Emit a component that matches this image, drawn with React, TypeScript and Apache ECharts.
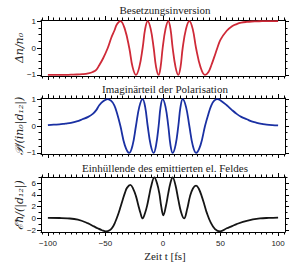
import React, { useEffect, useRef } from 'react';
import * as echarts from 'echarts';

// time samples (fs) for population inversion and polarization
const T = [-100, -95, -90, -85, -80, -75, -70, -65, -61, -58, -55.4, -52, -48, -45, -42.3, -40, -37, -33.2, -29.3, -26.4, -23.5, -20.6, -17.7, -15.5, -13.3, -10.7, -8.1, -6, -3.8, -2.1, -0.3, 2.2, 4.6, 6.5, 8.4, 10.9, 13.3, 15.2, 17.1, 20, 22.9, 25.8, 28.7, 32.6, 36.5, 39.5, 42, 44.5, 47.2, 50, 55.4, 60, 64, 68, 72.8, 77, 81.5, 86, 90, 95, 100];
const DN = [-1, -1, -1, -1, -0.99, -0.985, -0.97, -0.94, -0.89, -0.81, -0.64, -0.38, 0, 0.37, 0.64, 0.88, 1, 0.71, 0, -0.71, -1, -0.71, 0, 0.71, 1, 0.71, 0, -0.71, -1, -0.71, 0, 0.71, 1, 0.71, 0, -0.71, -1, -0.71, 0, 0.71, 1, 0.71, 0, -0.71, -1, -0.89, -0.64, -0.34, 0, 0.31, 0.64, 0.81, 0.89, 0.94, 0.97, 0.985, 0.99, 0.997, 1, 1, 1];
const POL = [0.03, 0.05, 0.06, 0.09, 0.12, 0.17, 0.25, 0.34, 0.45, 0.59, 0.77, 0.92, 1, 0.93, 0.77, 0.48, 0, -0.71, -1, -0.71, 0, 0.71, 1, 0.71, 0, -0.71, -1, -0.71, 0, 0.71, 1, 0.71, 0, -0.71, -1, -0.71, 0, 0.71, 1, 0.71, 0, -0.71, -1, -0.71, 0, 0.45, 0.77, 0.94, 1, 0.95, 0.77, 0.59, 0.45, 0.34, 0.25, 0.17, 0.12, 0.08, 0.05, 0.03, 0.02];

// time samples (fs) and emitted field envelope
const TE = [-100, -90, -83, -74, -65.5, -60, -56.8, -53, -49.6, -46, -43.8, -41.5, -39.4, -37, -35, -33, -31.3, -28.4, -25.8, -23.5, -21.5, -19.7, -17.7, -15.8, -13.9, -12, -10.4, -7.5, -5.2, -3.2, -1.5, 0.3, 2.4, 4.6, 6.4, 8.4, 10.9, 13.3, 15.8, 18.3, 21, 23.5, 26, 28.7, 31, 33.6, 36, 38, 41.4, 45.2, 49.6, 55.4, 60, 64, 72.8, 84.3, 92, 100];
const EF = [0.1, 0.08, 0.03, -0.2, -0.8, -1.35, -1.67, -2.0, -2.2, -1.95, -1.5, -0.6, 0.45, 1.9, 3.2, 4.4, 5.2, 5.7, 5.0, 3.8, 2.3, 1.0, 0.0, 0.8, 2.1, 3.9, 5.4, 7.0, 6.0, 4.3, 2.0, 0.55, 2.0, 4.3, 6.0, 7.0, 5.6, 3.2, 1.0, 0.0, 1.6, 3.8, 5.1, 5.6, 5.1, 3.8, 2.3, 1.0, -0.67, -1.8, -2.2, -1.67, -1.3, -0.95, -0.4, 0.0, 0.1, 0.15];

const X_MAJOR = [-100, -50, 0, 50, 100];
const Y1_MAJOR = [-1, 0, 1];
const Y3_MAJOR = [-2, 0, 2, 4, 6];

const TITLES = ['Besetzungsinversion', 'Imaginärteil der Polarisation', 'Einhüllende des emittierten el. Feldes'];
const YNAMES = ['Δn/n₀', '𝒫/(in₀|d₁₂|)', 'ℰħ/(|d₁₂|)'];
const XNAME = 'Zeit t [fs]';

const XMIN = -106, XMAX = 106;
const GRIDS = [
  { top: 20, height: 56 },
  { top: 98, height: 56 },
  { top: 177, height: 55 },
];
const YR = [
  { min: -1.04, max: 1.04, major: Y1_MAJOR, step: 0.25 },
  { min: -1.04, max: 1.04, major: Y1_MAJOR, step: 0.25 },
  { min: -2.3, max: 7.05, major: Y3_MAJOR, step: 1 },
];
const COLORS = ['#cf2a38', '#1a30a3', '#151515'];

function rangeVals(a: number, b: number, s: number, exclude: number[]) {
  const out: number[] = [];
  const n = Math.round((b - a) / s);
  for (let i = 0; i <= n; i++) {
    const v = +(a + i * s).toFixed(4);
    if (!exclude.some((e) => Math.abs(e - v) < 1e-6)) out.push(v);
  }
  return out;
}

const fmt = (v: number) => (v < 0 ? '−' + Math.abs(v) : String(v));

export default function App() {
  const ref = useRef<HTMLDivElement>(null);
  useEffect(() => {
    if (!ref.current) return;
    const chart = echarts.init(ref.current, undefined, { renderer: 'svg' });
    const xAxis: any[] = [];
    const yAxis: any[] = [];
    const grid: any[] = [];
    const series: any[] = [];
    const xMinor = rangeVals(-105, 105, 5, X_MAJOR);
    const tickLine = { color: '#000', width: 1 };
    GRIDS.forEach((g, gi) => {
      grid.push({ left: 41, width: 244, top: g.top, height: g.height, containLabel: false });
      (['bottom', 'top'] as const).forEach((pos) => {
        xAxis.push({
          gridIndex: gi, type: 'value', min: XMIN, max: XMAX, position: pos,
          axisLine: { show: true, onZero: false, lineStyle: tickLine },
          axisTick: { show: true, customValues: X_MAJOR, length: 4, inside: false, lineStyle: tickLine },
          axisLabel: {
            show: gi === 2 && pos === 'bottom', customValues: X_MAJOR, formatter: fmt,
            fontSize: 8, color: '#222', margin: 7, fontFamily: 'Liberation Sans',
          },
          splitLine: { show: false },
        });
        xAxis.push({
          gridIndex: gi, type: 'value', min: XMIN, max: XMAX, position: pos,
          axisLine: { show: false, onZero: false },
          axisTick: { show: true, customValues: xMinor, length: 2.5, inside: false, lineStyle: tickLine },
          axisLabel: { show: false },
          splitLine: { show: false },
        });
      });
      const yr = YR[gi];
      const yMinor = rangeVals(Math.ceil(yr.min / yr.step) * yr.step, Math.floor(yr.max / yr.step) * yr.step, yr.step, yr.major);
      (['left', 'right'] as const).forEach((pos) => {
        yAxis.push({
          gridIndex: gi, type: 'value', min: yr.min, max: yr.max, position: pos,
          axisLine: { show: true, onZero: false, lineStyle: tickLine },
          axisTick: { show: true, customValues: yr.major, length: 4, inside: false, lineStyle: tickLine },
          axisLabel: {
            show: pos === 'left', customValues: yr.major, formatter: fmt,
            fontSize: 8, color: '#222', margin: 5, fontFamily: 'Liberation Sans',
          },
          splitLine: { show: false },
        });
        yAxis.push({
          gridIndex: gi, type: 'value', min: yr.min, max: yr.max, position: pos,
          axisLine: { show: false, onZero: false },
          axisTick: { show: true, customValues: yMinor, length: 2.5, inside: false, lineStyle: tickLine },
          axisLabel: { show: false },
          splitLine: { show: false },
        });
      });
    });
    const data = [
      T.map((t, i) => [t, DN[i]]),
      T.map((t, i) => [t, POL[i]]),
      TE.map((t, i) => [t, EF[i]]),
    ];
    data.forEach((d, gi) => {
      series.push({
        type: 'line', xAxisIndex: gi * 4, yAxisIndex: gi * 4, data: d,
        smooth: 0.4, showSymbol: false, symbol: 'none',
        lineStyle: { color: COLORS[gi], width: 1.8 }, z: 5,
      });
    });
    const titleY = [10, 89, 168];
    const nameY = [48, 126, 205];
    const graphic: any[] = [];
    TITLES.forEach((t, i) => {
      graphic.push({
        type: 'text', x: 165, y: titleY[i],
        style: { text: t, fill: '#222', font: '11px "Liberation Serif", serif', textAlign: 'center', textVerticalAlign: 'middle' },
      });
    });
    YNAMES.forEach((t, i) => {
      graphic.push({
        type: 'text', x: 19, y: nameY[i], rotation: Math.PI / 2,
        style: { text: t, fill: '#222', font: 'italic 11px "DejaVu Serif", "Liberation Serif", serif', textAlign: 'center', textVerticalAlign: 'middle' },
      });
    });
    graphic.push({
      type: 'text', x: 165, y: 256,
      style: { text: XNAME, fill: '#222', font: '11px "Liberation Serif", serif', textAlign: 'center', textVerticalAlign: 'middle' },
    });
    chart.setOption({ animation: false, backgroundColor: '#fff', grid, xAxis, yAxis, series, graphic });
    return () => chart.dispose();
  }, []);
  return <div ref={ref} style={{ position: 'fixed', left: 0, top: 0, width: 300, height: 262 }} />;
}
